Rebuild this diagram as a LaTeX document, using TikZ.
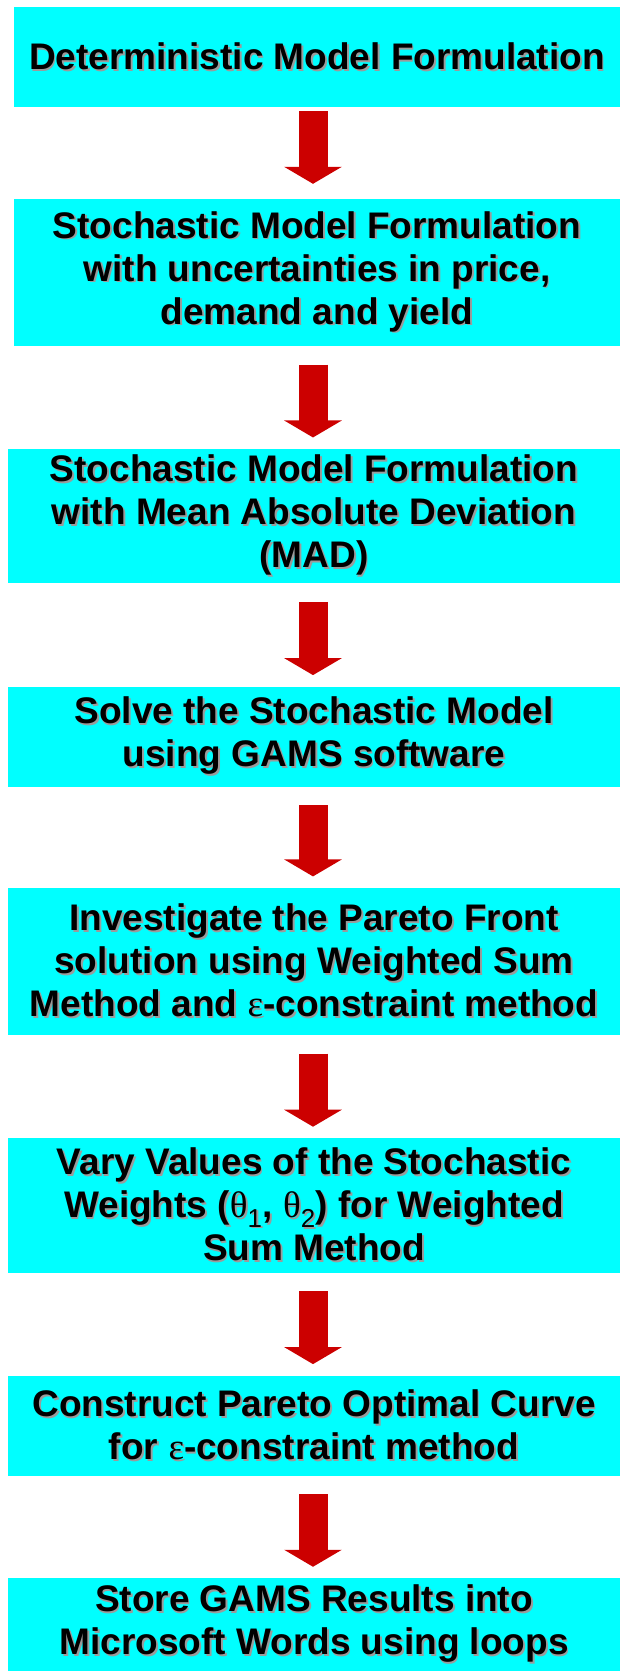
\documentclass[tikz,border=0pt]{standalone}
\usepackage{fontspec}
\setmainfont{Liberation Sans}
\newfontfamily\greekfont{Liberation Serif}
\usepackage{xcolor}
\usetikzlibrary{arrows.meta}
\definecolor{boxcyan}{RGB}{0,255,255}
\definecolor{arrowred}{RGB}{204,0,0}
\definecolor{shadowgray}{RGB}{155,155,155}
\newcommand{\shd}[1]{\makebox[0pt][l]{\hspace{1.8pt}\raisebox{-1.8pt}{\textcolor{shadowgray}{#1}}}#1}
\newcommand{\gk}[1]{{\greekfont\mdseries #1}}
\newcommand{\sbs}[1]{\textsubscript{\mdseries #1}}
\tikzset{
  flow box/.style={rectangle,fill=boxcyan,inner sep=0pt,align=center,text=black,
    font=\fontsize{37}{43}\selectfont\bfseries},
  wide box/.style={flow box,minimum width=606pt},
  full box/.style={flow box,minimum width=612pt},
  block arrow/.style={draw=arrowred,line width=29pt,-{Triangle[length=17pt,width=57pt]},
    shorten <=18.4pt,shorten >=11.4pt}
}

\begin{document}
\begin{tikzpicture}[x=1pt,y=-1pt]
  \useasboundingbox (0,0) rectangle (620,1671);
  \coordinate (axis) at (313,0);
  \node[wide box,minimum height=99.4pt] (b1) at (317,57) {\shd{Deterministic Model Formulation}};
  \node[wide box,minimum height=147pt] (b2) at (317,272.5) {\shd{Stochastic Model Formulation}\\ \shd{with uncertainties in price,}\\ \shd{demand and yield}};
  \node[full box,minimum height=134.3pt] (b3) at (314,516.2) {\shd{Stochastic Model Formulation}\\ \shd{with Mean Absolute Deviation}\\ \shd{(MAD)}};
  \node[full box,minimum height=100pt] (b4) at (314,736.7) {\shd{Solve the Stochastic Model}\\ \shd{using GAMS software}};
  \node[full box,minimum height=147pt] (b5) at (314,961.5) {\shd{Investigate the Pareto Front}\\ \shd{solution using Weighted Sum}\\ \shd{Method and \gk{ε}-constraint method}};
  \node[full box,minimum height=134.4pt] (b6) at (314,1205.5) {\shd{Vary Values of the Stochastic}\\ \shd{Weights (\gk{θ}\sbs{1}, \gk{θ}\sbs{2}) for Weighted}\\ \shd{Sum Method}};
  \node[full box,minimum height=100pt] (b7) at (314,1425.7) {\shd{Construct Pareto Optimal Curve}\\ \shd{for \gk{ε}-constraint method}};
  \node[full box,minimum height=92.7pt] (b8) at (314,1624.7) {\shd{Store GAMS Results into}\\ \shd{Microsoft Words using loops}};
  % arrows between the steps
  \draw[block arrow,shorten <=4.3pt,shorten >=15pt] (b1.south -| axis) -- (b2.north -| axis);
  \foreach \a/\b in {b2/b3, b3/b4, b4/b5, b5/b6, b6/b7, b7/b8}
    \draw[block arrow] (\a.south -| axis) -- (\b.north -| axis);
\end{tikzpicture}
\end{document}
